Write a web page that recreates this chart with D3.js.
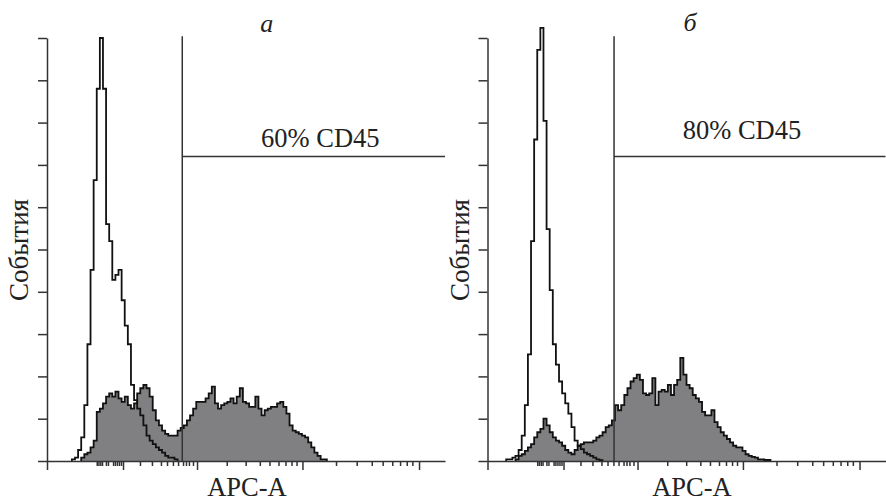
<!DOCTYPE html>
<html>
<head>
<meta charset="utf-8">
<script src="https://cdnjs.cloudflare.com/ajax/libs/d3/7.8.5/d3.min.js"></script>
<style>
    body { margin: 0; background: #fff; }
    svg text { font-family: "Liberation Serif", "Times New Roman", serif; fill: #222; }
</style>
</head>
<body>
<svg id="chart" width="886" height="502"></svg>
<script>
// APC-A display channels (0..256), histograms binned by 2 channels
const binWidth = 2;

// y ticks (events)
const yTicks = [0, 25, 50, 75, 100, 125, 150, 175, 200, 225, 250];

// x ticks in display channels (biexponential axis, no labels)
const xMajorTicks = [0, 48.9, 96.5, 164.3, 239.3];
const xMinorTicks = [32.0, 33.1, 34.3, 35.4, 37.9, 39.2, 42.5, 43.7, 45.0, 46.3, 47.6,
    59.8, 67.5, 73.3, 77.2, 81.0, 84.3, 87.5, 89.4, 91.3, 93.9,
    115.6, 127.8, 136.9, 143.1, 148.9, 153.4, 157.3, 160.5,
    185.9, 199.2, 208.9, 215.9, 222.1, 227.1, 231.4, 235.0];

// panel a: control (open) and CD45 stained (filled)
const openAStart = 8;
const openA = [1, 2, 6.5, 14, 33, 69, 113, 166, 220, 250, 220, 140, 130, 107, 110, 113, 95, 80,
    69, 45, 36, 31, 27, 21, 15, 12, 10, 8, 6.5, 5, 3, 2, 2, 1];
const filledAStart = 11;
const filledA = [2, 4, 5, 8, 12, 29, 31, 34, 38, 40, 38, 41, 37, 35, 38, 33, 31, 34, 40, 43,
    45, 43, 38, 30, 24, 21, 18, 16, 15, 15, 15, 18, 19.5, 21, 24, 27, 31, 35, 35, 35,
    37, 40, 44, 34, 31, 33, 34, 35, 37, 34, 38, 43, 35, 34, 32, 32, 38, 31, 27, 30,
    31, 32, 32, 34, 35, 32, 28, 21, 18, 17, 16, 15, 14, 11, 8, 5, 3, 1, 1];

// panel б
const openBStart = 6;
const openB = [1, 1, 2, 3, 6.5, 15, 33, 63, 130, 190, 243, 256, 201, 137, 101, 69, 57, 47,
    40, 34, 28, 20, 12, 9, 7, 5, 4, 3, 2, 1, 0.5];
const filledBStart = 9;
const filledB = [1, 3, 4, 6, 8, 10, 14, 17, 19, 25, 21, 17, 14, 12, 11, 9, 6.5, 5, 4, 6.5,
    9, 10, 11, 11, 11, 12, 14, 15, 17, 20, 21, 24, 33, 30, 33, 39, 43, 47, 49, 51,
    48, 40, 39, 40, 49, 33, 41, 42, 41, 45, 39, 45, 48, 61, 51, 45, 43, 39, 37, 35,
    29, 27, 27, 30, 23, 20, 17, 15, 13, 11, 9, 8, 8, 6, 4, 3, 2.4, 2, 1, 1, 0.6, 0.6];

// gates: threshold channel and marker level, with the share of positive cells
const gateChannels = [87.0, 81.4];
const gateLevel = 180;
const gateLabels = ["60% CD45", "80% CD45"];
const panelLetters = ["а", "б"];

const plotW = 398, plotH = 423, plotTop = 38;
const svg = d3.select("#chart");

const x = d3.scaleLinear().domain([0, 256]).range([0, plotW]);
const y = d3.scaleLinear().domain([0, 250]).range([plotH, 0]);

function toPoints(start, values) {
    let pts = [{c: start * binWidth, v: 0}];
    values.forEach((v, i) => pts.push({c: (start + i) * binWidth, v: v}));
    pts.push({c: (start + values.length) * binWidth, v: 0});
    return pts;
}

function drawPanel(cfg) {
    let g = svg.append("g").attr("transform", "translate(" + cfg.originX + "," + plotTop + ")");

    let area = d3.area().curve(d3.curveStepAfter)
        .x(d => x(d.c)).y0(y(0)).y1(d => y(d.v));
    let line = d3.line().curve(d3.curveStepAfter)
        .x(d => x(d.c)).y(d => y(d.v));

    let filledPts = toPoints(cfg.filledStart, cfg.filled);
    g.append("path").attr("d", area(filledPts)).attr("fill", "#808083");
    g.append("path").attr("d", line(filledPts))
        .attr("fill", "none").attr("stroke", "#111").attr("stroke-width", 1.8);

    g.append("path").attr("d", line(toPoints(cfg.openStart, cfg.open)))
        .attr("fill", "none").attr("stroke", "#111").attr("stroke-width", 1.8);

    // gate
    g.append("line")
        .attr("x1", x(cfg.gate)).attr("x2", x(cfg.gate))
        .attr("y1", y(251)).attr("y2", y(0))
        .attr("stroke", "#333").attr("stroke-width", 1.5);
    g.append("line")
        .attr("x1", x(cfg.gate)).attr("x2", x(256))
        .attr("y1", y(gateLevel)).attr("y2", y(gateLevel))
        .attr("stroke", "#333").attr("stroke-width", 1.5);
    g.append("text")
        .attr("x", cfg.gateTextX).attr("y", cfg.gateTextY)
        .style("font-size", "26.5px")
        .text(cfg.gateLabel);

    // axes
    let yAxis = g.append("g")
        .call(d3.axisLeft(y).tickValues(yTicks).tickSize(9).tickSizeOuter(0).tickFormat(""));
    let xAxis = g.append("g").attr("transform", "translate(0," + plotH + ")")
        .call(d3.axisBottom(x).tickValues(xMajorTicks).tickSize(9).tickSizeOuter(0).tickFormat(""));
    let xMinor = g.append("g").attr("transform", "translate(0," + plotH + ")")
        .call(d3.axisBottom(x).tickValues(xMinorTicks).tickSize(5).tickSizeOuter(0).tickFormat(""));
    xMinor.select(".domain").remove();
    [yAxis, xAxis, xMinor].forEach(a => {
        a.selectAll("path, line").attr("stroke", "#333").attr("stroke-width", 1.5);
    });

    // labels
    g.append("text")
        .attr("x", cfg.letterX).attr("y", cfg.letterY)
        .attr("text-anchor", "middle")
        .style("font-size", "26px").style("font-style", "italic")
        .text(cfg.letter);
    g.append("text")
        .attr("x", cfg.xLabelX).attr("y", 458)
        .attr("text-anchor", "middle")
        .style("font-size", "26.5px")
        .text("APC-A");
    g.append("text")
        .attr("transform", "translate(-19," + (250 - plotTop) + ") rotate(-90)")
        .attr("text-anchor", "middle")
        .style("font-size", "27px")
        .text("События");
}

drawPanel({
    originX: 47, open: openA, openStart: openAStart, filled: filledA, filledStart: filledAStart,
    gate: gateChannels[0], gateLabel: gateLabels[0], gateTextX: 214, gateTextY: 108.7,
    letter: panelLetters[0], letterX: 219.7, letterY: -6, xLabelX: 200
});
drawPanel({
    originX: 487.5, open: openB, openStart: openBStart, filled: filledB, filledStart: filledBStart,
    gate: gateChannels[1], gateLabel: gateLabels[1], gateTextX: 195.2, gateTextY: 101,
    letter: panelLetters[1], letterX: 202.5, letterY: -7, xLabelX: 204.5
});
</script>
</body>
</html>
